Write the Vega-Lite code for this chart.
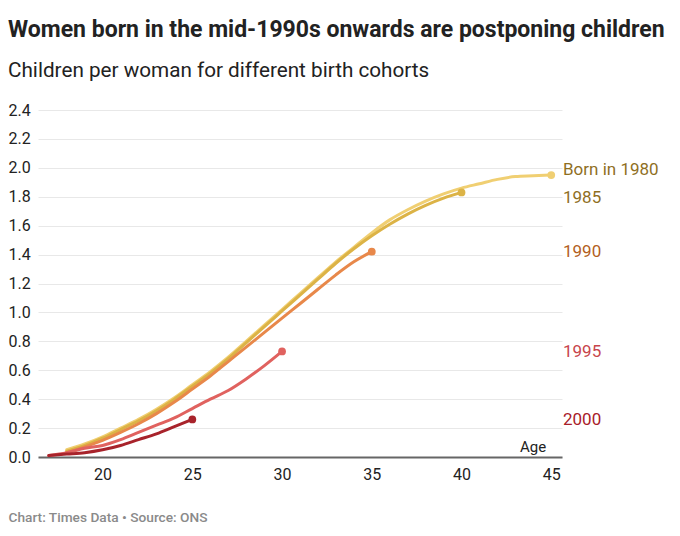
{
  "$schema": "https://vega.github.io/schema/vega-lite/v6.json",
  "width": 524,
  "height": 347,
  "autosize": "none",
  "padding": {"left": 38, "top": 110, "right": 118, "bottom": 79},
  "title": {
    "text": "Women born in the mid-1990s onwards are postponing children",
    "subtitle": "Children per woman for different birth cohorts",
    "anchor": "start",
    "frame": "group",
    "dx": -30,
    "offset": 21,
    "font": "Roboto",
    "fontSize": 23,
    "fontWeight": "bold",
    "color": "#222222",
    "subtitleFont": "Roboto",
    "subtitleFontSize": 20.7,
    "subtitleColor": "#222222",
    "subtitlePadding": 19
  },
  "datasets": {
    "cohorts": [
      {"cohort": "1980", "age": 18, "value": 0.05},
      {"cohort": "1980", "age": 19, "value": 0.09},
      {"cohort": "1980", "age": 20, "value": 0.14},
      {"cohort": "1980", "age": 21, "value": 0.2},
      {"cohort": "1980", "age": 22, "value": 0.26},
      {"cohort": "1980", "age": 23, "value": 0.33},
      {"cohort": "1980", "age": 24, "value": 0.41},
      {"cohort": "1980", "age": 25, "value": 0.5},
      {"cohort": "1980", "age": 26, "value": 0.59},
      {"cohort": "1980", "age": 27, "value": 0.69},
      {"cohort": "1980", "age": 28, "value": 0.8},
      {"cohort": "1980", "age": 29, "value": 0.91},
      {"cohort": "1980", "age": 30, "value": 1.02},
      {"cohort": "1980", "age": 31, "value": 1.13},
      {"cohort": "1980", "age": 32, "value": 1.24},
      {"cohort": "1980", "age": 33, "value": 1.35},
      {"cohort": "1980", "age": 34, "value": 1.45},
      {"cohort": "1980", "age": 35, "value": 1.55},
      {"cohort": "1980", "age": 36, "value": 1.64},
      {"cohort": "1980", "age": 37, "value": 1.71},
      {"cohort": "1980", "age": 38, "value": 1.77},
      {"cohort": "1980", "age": 39, "value": 1.82},
      {"cohort": "1980", "age": 40, "value": 1.86},
      {"cohort": "1980", "age": 41, "value": 1.89},
      {"cohort": "1980", "age": 42, "value": 1.92},
      {"cohort": "1980", "age": 43, "value": 1.94},
      {"cohort": "1980", "age": 44, "value": 1.945},
      {"cohort": "1980", "age": 45, "value": 1.95},
      {"cohort": "1985", "age": 18, "value": 0.04},
      {"cohort": "1985", "age": 19, "value": 0.08},
      {"cohort": "1985", "age": 20, "value": 0.13},
      {"cohort": "1985", "age": 21, "value": 0.19},
      {"cohort": "1985", "age": 22, "value": 0.25},
      {"cohort": "1985", "age": 23, "value": 0.32},
      {"cohort": "1985", "age": 24, "value": 0.4},
      {"cohort": "1985", "age": 25, "value": 0.49},
      {"cohort": "1985", "age": 26, "value": 0.58},
      {"cohort": "1985", "age": 27, "value": 0.68},
      {"cohort": "1985", "age": 28, "value": 0.79},
      {"cohort": "1985", "age": 29, "value": 0.9},
      {"cohort": "1985", "age": 30, "value": 1.01},
      {"cohort": "1985", "age": 31, "value": 1.12},
      {"cohort": "1985", "age": 32, "value": 1.23},
      {"cohort": "1985", "age": 33, "value": 1.34},
      {"cohort": "1985", "age": 34, "value": 1.44},
      {"cohort": "1985", "age": 35, "value": 1.53},
      {"cohort": "1985", "age": 36, "value": 1.61},
      {"cohort": "1985", "age": 37, "value": 1.68},
      {"cohort": "1985", "age": 38, "value": 1.74},
      {"cohort": "1985", "age": 39, "value": 1.79},
      {"cohort": "1985", "age": 40, "value": 1.83},
      {"cohort": "1990", "age": 18, "value": 0.03},
      {"cohort": "1990", "age": 19, "value": 0.07},
      {"cohort": "1990", "age": 20, "value": 0.115},
      {"cohort": "1990", "age": 21, "value": 0.17},
      {"cohort": "1990", "age": 22, "value": 0.23},
      {"cohort": "1990", "age": 23, "value": 0.3},
      {"cohort": "1990", "age": 24, "value": 0.38},
      {"cohort": "1990", "age": 25, "value": 0.47},
      {"cohort": "1990", "age": 26, "value": 0.56},
      {"cohort": "1990", "age": 27, "value": 0.66},
      {"cohort": "1990", "age": 28, "value": 0.76},
      {"cohort": "1990", "age": 29, "value": 0.86},
      {"cohort": "1990", "age": 30, "value": 0.96},
      {"cohort": "1990", "age": 31, "value": 1.06},
      {"cohort": "1990", "age": 32, "value": 1.16},
      {"cohort": "1990", "age": 33, "value": 1.26},
      {"cohort": "1990", "age": 34, "value": 1.35},
      {"cohort": "1990", "age": 35, "value": 1.42},
      {"cohort": "1995", "age": 17, "value": 0.01},
      {"cohort": "1995", "age": 18, "value": 0.03},
      {"cohort": "1995", "age": 19, "value": 0.06},
      {"cohort": "1995", "age": 20, "value": 0.08},
      {"cohort": "1995", "age": 21, "value": 0.12},
      {"cohort": "1995", "age": 22, "value": 0.17},
      {"cohort": "1995", "age": 23, "value": 0.22},
      {"cohort": "1995", "age": 24, "value": 0.27},
      {"cohort": "1995", "age": 25, "value": 0.335},
      {"cohort": "1995", "age": 26, "value": 0.4},
      {"cohort": "1995", "age": 27, "value": 0.46},
      {"cohort": "1995", "age": 28, "value": 0.54},
      {"cohort": "1995", "age": 29, "value": 0.63},
      {"cohort": "1995", "age": 30, "value": 0.73},
      {"cohort": "2000", "age": 17, "value": 0.01},
      {"cohort": "2000", "age": 18, "value": 0.02},
      {"cohort": "2000", "age": 19, "value": 0.03},
      {"cohort": "2000", "age": 20, "value": 0.05},
      {"cohort": "2000", "age": 21, "value": 0.08},
      {"cohort": "2000", "age": 22, "value": 0.12},
      {"cohort": "2000", "age": 23, "value": 0.16},
      {"cohort": "2000", "age": 24, "value": 0.21},
      {"cohort": "2000", "age": 25, "value": 0.26}
    ],
    "labels": [
      {"cohort": "1980", "label": "Born in 1980", "value": 1.985},
      {"cohort": "1985", "label": "1985", "value": 1.79},
      {"cohort": "1990", "label": "1990", "value": 1.42},
      {"cohort": "1995", "label": "1995", "value": 0.725},
      {"cohort": "2000", "label": "2000", "value": 0.255}
    ]
  },
  "layer": [
    {
      "data": {"name": "cohorts"},
      "mark": {"type": "line", "strokeWidth": 3, "interpolate": "monotone", "strokeCap": "round"},
      "encoding": {
        "x": {
          "field": "age",
          "type": "quantitative",
          "scale": {"domain": [16.4, 45.6], "nice": false, "zero": false},
          "axis": {
            "values": [20, 25, 30, 35, 40, 45],
            "tickCount": 10,
            "grid": false,
            "ticks": false,
            "tickSize": 0,
            "domainColor": "#666666",
            "domainWidth": 2,
            "labelFont": "Roboto",
            "labelFontSize": 16,
            "labelColor": "#222222",
            "labelPadding": 9,
            "labelOverlap": false,
            "title": "Chart: Times Data • Source: ONS",
            "titleFont": "Roboto",
            "titleFontSize": 13.7,
            "titleFontWeight": 500,
            "titleColor": "#8a8a8a",
            "titleAnchor": null,
            "titleAlign": "left",
            "titleBaseline": "alphabetic",
            "titleX": -30,
            "titleY": 64
          }
        },
        "y": {
          "field": "value",
          "type": "quantitative",
          "scale": {"domain": [0, 2.4], "nice": false},
          "axis": {
            "values": [0, 0.2, 0.4, 0.6, 0.8, 1, 1.2, 1.4, 1.6, 1.8, 2, 2.2, 2.4],
            "tickCount": 20,
            "format": ".1f",
            "domain": false,
            "ticks": false,
            "tickSize": 0,
            "gridColor": "#e8e8e8",
            "gridWidth": 1,
            "labelAlign": "left",
            "labelPadding": 30,
            "labelOverlap": false,
            "labelFont": "Roboto",
            "labelFontSize": 16,
            "labelColor": "#222222",
            "title": null
          }
        },
        "color": {
          "field": "cohort",
          "type": "nominal",
          "scale": {
            "domain": ["1980", "1985", "1990", "1995", "2000"],
            "range": ["#f0cf72", "#dcb346", "#e8884a", "#e0625f", "#a8232b"]
          },
          "legend": null
        }
      }
    },
    {
      "data": {"name": "cohorts"},
      "transform": [
        {"joinaggregate": [{"op": "max", "field": "age", "as": "lastAge"}], "groupby": ["cohort"]},
        {"filter": "datum.age === datum.lastAge"}
      ],
      "mark": {"type": "circle", "size": 60, "opacity": 1},
      "encoding": {
        "x": {"field": "age", "type": "quantitative"},
        "y": {"field": "value", "type": "quantitative"},
        "color": {
          "field": "cohort",
          "type": "nominal",
          "scale": {
            "domain": ["1980", "1985", "1990", "1995", "2000"],
            "range": ["#f0cf72", "#dcb346", "#e8884a", "#e0625f", "#a8232b"]
          },
          "legend": null
        }
      }
    },
    {
      "data": {"name": "labels"},
      "mark": {"type": "text", "align": "left", "baseline": "middle", "dx": 1, "font": "Roboto", "fontSize": 17},
      "encoding": {
        "x": {"value": "width"},
        "y": {"field": "value", "type": "quantitative"},
        "text": {"field": "label"},
        "color": {
          "field": "cohort",
          "type": "nominal",
          "scale": {
            "domain": ["1980", "1985", "1990", "1995", "2000"],
            "range": ["#8f6f1f", "#8f6f1f", "#b35f1e", "#c8454c", "#a8202a"]
          },
          "legend": null
        }
      }
    },
    {
      "data": {"values": [{}]},
      "mark": {"type": "text", "text": "Age", "align": "right", "baseline": "alphabetic", "dx": -5, "dy": -5, "font": "Roboto", "fontSize": 15, "color": "#222222"},
      "encoding": {
        "x": {"datum": 45},
        "y": {"datum": 0}
      }
    }
  ],
  "resolve": {"scale": {"color": "independent"}},
  "config": {
    "view": {"stroke": null},
    "font": "Roboto"
  }
}
